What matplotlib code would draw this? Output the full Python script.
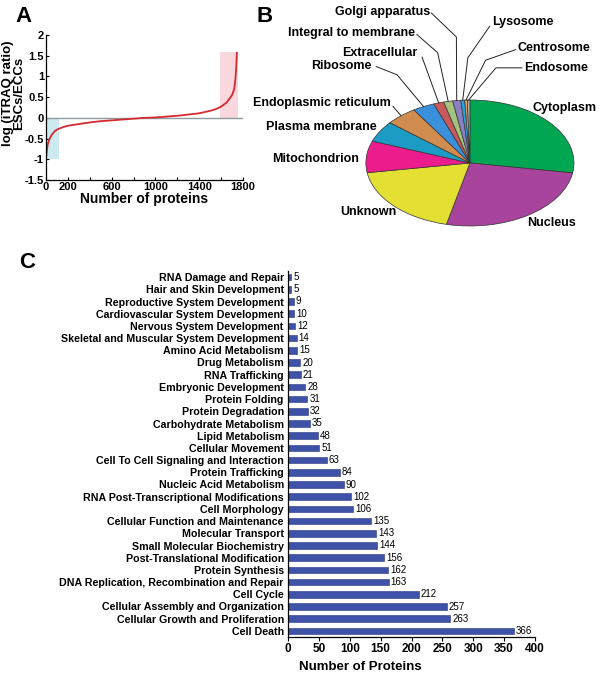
import numpy as np
import matplotlib
matplotlib.use("Agg")
import matplotlib.pyplot as plt

plt.rcParams['font.family'] = ['Liberation Sans', 'DejaVu Sans']
plt.rcParams['font.weight'] = 'bold'
plt.rcParams['axes.labelweight'] = 'bold'

# ---- panel A data: sorted log ratios
rank = [0, 5, 15, 30, 50, 80, 110, 150, 200, 300, 400, 500, 600, 700, 800, 900,
        1000, 1100, 1200, 1300, 1400, 1500, 1550, 1600, 1650, 1700, 1720, 1730, 1738, 1744]
log_ratio = [-1.0, -0.85, -0.65, -0.52, -0.42, -0.32, -0.27, -0.23, -0.19, -0.15, -0.11,
             -0.08, -0.06, -0.04, -0.02, 0.0, 0.01, 0.03, 0.05, 0.08, 0.11, 0.17, 0.21,
             0.27, 0.37, 0.55, 0.70, 0.92, 1.20, 1.57]
low_span = (0, 120, -1.0, 0.0)
high_span = (1590, 1755, 0.0, 1.58)

# ---- panel B data: subcellular location shares (%)
locations = ['Cytoplasm', 'Nucleus', 'Unknown', 'Mitochondrion', 'Plasma membrane',
             'Endoplasmic reticulum', 'Ribosome', 'Extracellular', 'Integral to membrane',
             'Golgi apparatus', 'Lysosome', 'Centrosome', 'Endosome']
shares = [27.5, 26.1, 18.9, 8.1, 5.4, 4.9, 3.4, 1.6, 1.4, 1.25, 0.6, 0.4, 0.4]
pie_colors = ['#00A651', '#A8449B', '#E3DF33', '#EC1C8C', '#1C9CC4', '#D18C50',
              '#3A90DA', '#C85A5C', '#A4C37C', '#8C80C4', '#2AA2DC', '#E2A466', '#B4AEA8']

# ---- panel C data: functional categories
functions = ['RNA Damage and Repair', 'Hair and Skin Development',
             'Reproductive System Development', 'Cardiovascular System Development',
             'Nervous System Development', 'Skeletal and Muscular System Development',
             'Amino Acid Metabolism', 'Drug Metabolism', 'RNA Trafficking',
             'Embryonic Development', 'Protein Folding', 'Protein Degradation',
             'Carbohydrate Metabolism', 'Lipid Metabolism', 'Cellular Movement',
             'Cell To Cell Signaling and Interaction', 'Protein Trafficking',
             'Nucleic Acid Metabolism', 'RNA Post-Transcriptional Modifications',
             'Cell Morphology', 'Cellular Function and Maintenance', 'Molecular Transport',
             'Small Molecular Biochemistry', 'Post-Translational Modification',
             'Protein Synthesis', 'DNA Replication, Recombination and Repair', 'Cell Cycle',
             'Cellular Assembly and Organization', 'Cellular Growth and Proliferation',
             'Cell Death']
protein_counts = [5, 5, 9, 10, 12, 14, 15, 20, 21, 28, 31, 32, 35, 48, 51, 63, 84, 90,
                  102, 106, 135, 143, 144, 156, 162, 163, 212, 257, 263, 366]

W, H = 601, 674
fig = plt.figure(figsize=(W / 100, H / 100), dpi=100)


def box(x0, y0, x1, y1):
    # pixel box (top-left origin) -> figure fraction rect
    return [x0 / W, 1 - y1 / H, (x1 - x0) / W, (y1 - y0) / H]


# ================= A
axA = fig.add_axes(box(46, 35, 243, 180))
axA.fill_between(low_span[:2], low_span[2], low_span[3], color='#CDEAF0', lw=0)
axA.fill_between(high_span[:2], high_span[2], high_span[3], color='#F8D8DC', lw=0)
axA.axhline(0, color='#8C9A9E', lw=1)
axA.plot(rank, log_ratio, color='#D42A2F', lw=1.3)
axA.set_xlim(0, 1800)
axA.set_ylim(-1.5, 2)
axA.set_xticks(np.arange(0, 1801, 200))
axA.set_xticklabels(['0', '200', '', '600', '', '1000', '', '1400', '', '1800'])
axA.set_yticks(np.arange(-1.5, 2.01, 0.5))
axA.set_yticklabels(['-1.5', '-1', '-0.5', '0', '0.5', '1', '1.5', '2'])
axA.tick_params(direction='in', length=2.5, width=0.8, labelsize=8, pad=1.5)
for s in ['top', 'right']:
    axA.spines[s].set_visible(False)
for s in ['left', 'bottom']:
    axA.spines[s].set_linewidth(0.9)
axA.set_xlabel('Number of proteins', fontsize=10, labelpad=0)
axA.set_ylabel('log (iTRAQ ratio)\nESCs/ECCs', fontsize=9.5, linespacing=0.85)
axA.yaxis.set_label_coords(-0.108, 0.6)
fig.text(24 / W, 1 - 16 / H, 'A', fontsize=16, ha='center', va='center')

# ================= B
axB = fig.add_axes(box(240, 0, 601, 290))
wedges, _ = axB.pie(shares, colors=pie_colors, startangle=90, counterclock=False,
                    wedgeprops=dict(edgecolor='#333333', linewidth=0.5))
axB.set_aspect('auto')
axB.set_xlim(-2.21, 1.26)
axB.set_ylim(-2.016, 2.587)
axB.axis('off')

# label centres (axes data units) and optional leader anchor/elbow
label_pos = {
    'Cytoplasm': (0.91, 0.87), 'Nucleus': (0.78, -0.95), 'Unknown': (-0.98, -0.78),
    'Mitochondrion': (-1.48, 0.06), 'Plasma membrane': (-1.43, 0.57),
    'Endoplasmic reticulum': (-1.42, 0.95), 'Ribosome': (-1.24, 1.54),
    'Extracellular': (-0.87, 1.75), 'Integral to membrane': (-1.14, 2.06),
    'Golgi apparatus': (-0.84, 2.40), 'Lysosome': (0.51, 2.24),
    'Centrosome': (0.81, 1.83), 'Endosome': (0.83, 1.51),
}
leaders = {
    'Endoplasmic reticulum': [(-0.74, 0.90)],
    'Ribosome': [(-0.90, 1.53), (-0.70, 1.40)],
    'Extracellular': [(-0.46, 1.68)],
    'Integral to membrane': [(-0.51, 2.04), (-0.31, 1.75)],
    'Golgi apparatus': [(-0.37, 2.38), (-0.13, 2.0)],
    'Lysosome': [(0.19, 2.17), (-0.02, 1.67)],
    'Centrosome': [(0.44, 1.80), (0.15, 1.63)],
    'Endosome': [(0.50, 1.51), (0.25, 1.51)],
}
for w, name in zip(wedges, locations):
    x, y = label_pos[name]
    axB.text(x, y, name, fontsize=9, ha='center', va='center')
    if name in leaders:
        mid = np.deg2rad((w.theta1 + w.theta2) / 2)
        pts = leaders[name] + [(np.cos(mid), np.sin(mid))]
        axB.plot([p[0] for p in pts], [p[1] for p in pts], color='#222222', lw=0.7,
                 clip_on=False)
fig.text(265 / W, 1 - 17 / H, 'B', fontsize=16, ha='center', va='center')

# ================= C
axC = fig.add_axes(box(288, 271, 535, 637))
ypos = np.arange(len(functions))
bars = axC.barh(ypos, protein_counts, height=0.55, color='#3E52A8',
                edgecolor='#27357A', linewidth=0.4)
axC.bar_label(bars, labels=[str(v) for v in protein_counts], padding=1.5,
              fontsize=7, fontweight='normal')
axC.set_yticks(ypos)
axC.set_yticklabels(functions, fontsize=7.7)
axC.set_ylim(len(functions) - 0.5, -0.5)
axC.set_xlim(0, 400)
axC.set_xticks(np.arange(0, 401, 50))
axC.tick_params(axis='x', labelsize=8.5, length=3, width=0.8, pad=1.5)
axC.tick_params(axis='y', length=0, pad=3)
for s in ['top', 'right']:
    axC.spines[s].set_visible(False)
for s in ['left', 'bottom']:
    axC.spines[s].set_linewidth(0.9)
axC.set_xlabel('Number of Proteins', fontsize=9.5)
axC.xaxis.set_label_coords((360 - 288) / (535 - 288), -0.065)
fig.text(27 / W, 1 - 262 / H, 'C', fontsize=16, ha='center', va='center')

fig.savefig('out.png', dpi=100)
